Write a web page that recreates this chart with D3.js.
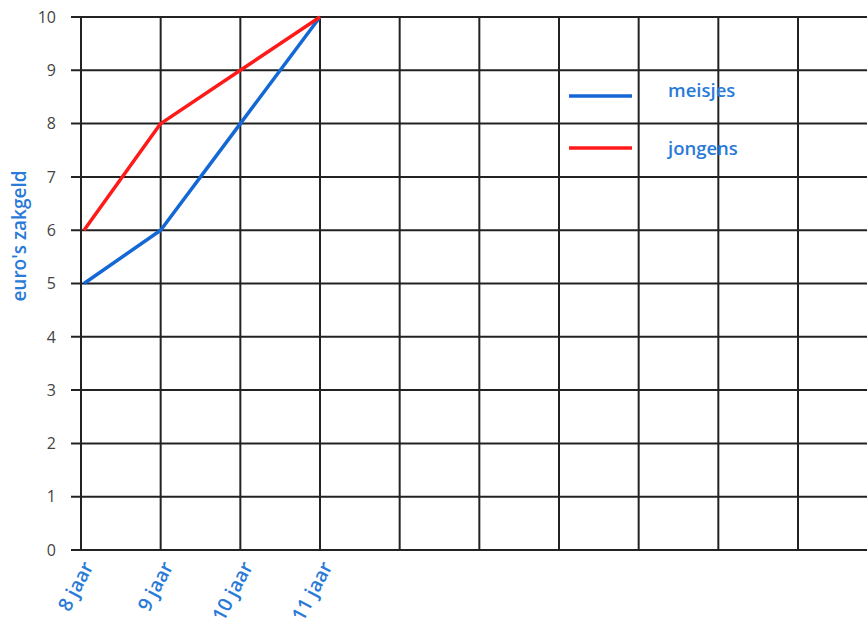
<!DOCTYPE html>
<html><head><meta charset="utf-8">
<script src="https://cdn.jsdelivr.net/npm/d3@7"></script>
<style>body{margin:0;background:#fff}svg{display:block}</style>
</head><body>
<svg id="c" width="867" height="625"></svg>
<script>
const categories = ["8 jaar","9 jaar","10 jaar","11 jaar"];
const meisjes = [5, 6, 8, 10];
const jongens = [6, 8, 9, 10];
const yTicks = [0,1,2,3,4,5,6,7,8,9,10];
const gridCols = [0,1,2,3,4,5,6,7,8,9];
const seriesNames = ["meisjes","jongens"];
const seriesColors = ["#1468d6","#ff1a1a"];

const svg = d3.select("#c");
const x = d3.scaleLinear().domain([0,9]).range([81,798]);
const y = d3.scaleLinear().domain([0,10]).range([550,17]);
const textBlue = "#2a7ad8";
const font = "'Open Sans', Lato, sans-serif";

// horizontal grid lines
svg.append("g").selectAll("line").data(yTicks).join("line")
  .attr("x1",71).attr("x2",867)
  .attr("y1",d=>y(d)).attr("y2",d=>y(d))
  .attr("stroke","#222").attr("stroke-width",2);
// vertical grid lines
svg.append("g").selectAll("line").data(gridCols).join("line")
  .attr("x1",d=>x(d)).attr("x2",d=>x(d))
  .attr("y1",y(10)).attr("y2",y(0))
  .attr("stroke","#222").attr("stroke-width",2);

// y tick labels
svg.append("g").selectAll("text").data(yTicks).join("text")
  .attr("x",56).attr("y",d=>y(d)).attr("dy","0.36em")
  .attr("text-anchor","end").attr("fill","#444")
  .attr("font-family",font).attr("font-size",16).text(d=>d);

// y axis title
svg.append("text").attr("transform","translate(26,236) rotate(-90)")
  .attr("text-anchor","middle").attr("fill",textBlue)
  .attr("font-family",font).attr("font-size",19).attr("font-weight",600)
  .text("euro's zakgeld");

// x labels
svg.append("g").selectAll("text").data(categories).join("text")
  .attr("transform",(d,i)=>`translate(${x(i)+7},${y(0)+13}) rotate(-62)`)
  .attr("text-anchor","end").attr("fill",textBlue)
  .attr("font-family",font).attr("font-size",19.5).attr("font-weight",600)
  .attr("dy","0.35em").text(d=>d);

// lines
const line = d3.line().x((d,i)=>x(i)+(i===0?3:0)).y(d=>y(d));
[meisjes, jongens].forEach((s,k)=>{
  svg.append("path").datum(s).attr("d",line)
    .attr("fill","none").attr("stroke",seriesColors[k])
    .attr("stroke-width",3.5).attr("stroke-linejoin","round");
});

// legend
const legY = [96,148];
const legTextY = [97,155];
seriesNames.forEach((n,k)=>{
  svg.append("line").attr("x1",569).attr("x2",632)
    .attr("y1",legY[k]).attr("y2",legY[k])
    .attr("stroke",seriesColors[k]).attr("stroke-width",3.5);
  svg.append("text").attr("x",668).attr("y",legTextY[k])
    .attr("fill",textBlue).attr("font-family",font).attr("font-size",18.5)
    .attr("font-weight",600).text(n);
});
</script>
</body></html>
